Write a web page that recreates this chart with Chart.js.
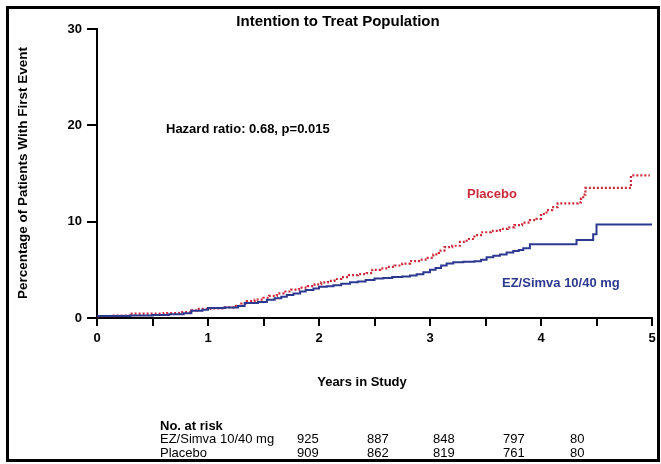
<!DOCTYPE html>
<html>
<head>
<meta charset="utf-8">
<script src="https://cdn.jsdelivr.net/npm/chart.js@4.4.1/dist/chart.umd.min.js"></script>
<style>
  body { margin: 0; background: #fff; }
  canvas { display: block; }
</style>
</head>
<body>
<canvas id="chart" width="661" height="464"></canvas>
<script>
// KM curves, cumulative % with first event
const ezYears = [0, 0.3, 0.5, 0.65, 0.78, 0.85, 0.95, 1.0, 1.15, 1.27, 1.33, 1.45, 1.53, 1.6, 1.66, 1.71, 1.77, 1.83, 1.88, 1.95, 2.0, 2.07, 2.13, 2.2, 2.28, 2.35, 2.42, 2.5, 2.58, 2.66, 2.75, 2.82, 2.88, 2.94, 3.0, 3.05, 3.1, 3.15, 3.21, 3.3, 3.4, 3.46, 3.51, 3.57, 3.63, 3.69, 3.75, 3.8, 3.84, 3.9, 4.32, 4.47, 4.5, 5.0];
const ezPct   = [0.2, 0.25, 0.3, 0.4, 0.5, 0.75, 0.85, 1.05, 1.1, 1.25, 1.55, 1.65, 1.9, 2.05, 2.2, 2.4, 2.55, 2.75, 2.9, 3.05, 3.25, 3.3, 3.4, 3.55, 3.7, 3.8, 3.95, 4.1, 4.15, 4.25, 4.3, 4.4, 4.55, 4.75, 5.0, 5.2, 5.45, 5.65, 5.8, 5.85, 5.9, 6.05, 6.3, 6.45, 6.6, 6.8, 6.95, 7.05, 7.25, 7.65, 8.1, 8.7, 9.7, 9.7];

const placeboYears = [0, 0.15, 0.3, 0.6, 0.75, 0.85, 0.9, 1.02, 1.15, 1.23, 1.3, 1.35, 1.42, 1.5, 1.55, 1.62, 1.68, 1.75, 1.82, 1.9, 1.96, 2.02, 2.08, 2.14, 2.2, 2.27, 2.35, 2.43, 2.48, 2.55, 2.62, 2.68, 2.75, 2.82, 2.9, 2.97, 3.03, 3.08, 3.13, 3.2, 3.27, 3.33, 3.4, 3.46, 3.55, 3.63, 3.7, 3.76, 3.83, 3.9, 3.96, 4.0, 4.05, 4.1, 4.15, 4.33, 4.36, 4.38, 4.4, 4.81, 4.98];
const placeboPct   = [0.2, 0.25, 0.45, 0.5, 0.6, 0.8, 0.95, 1.0, 1.1, 1.25, 1.5, 1.75, 1.9, 2.1, 2.3, 2.55, 2.75, 2.95, 3.15, 3.3, 3.5, 3.7, 3.85, 4.05, 4.25, 4.45, 4.55, 4.65, 5.0, 5.15, 5.3, 5.45, 5.65, 5.9, 6.05, 6.25, 6.6, 7.0, 7.35, 7.5, 7.9, 8.2, 8.6, 8.9, 9.05, 9.25, 9.4, 9.65, 9.9, 10.15, 10.3, 10.8, 11.2, 11.5, 11.9, 12.0, 12.4, 12.8, 13.5, 14.8, 14.8];

// number at risk table
const riskLabels = ["EZ/Simva 10/40 mg", "Placebo"];
const ezAtRisk = [925, 887, 848, 797, 80];
const placeboAtRisk = [909, 862, 819, 761, 80];

const BLUE = "#2d3990";
const RED = "#cc2a3a";
const FONT = "'Liberation Sans', Arial, sans-serif";

function pts(xs, ys) {
  return xs.map((x, i) => ({ x: x, y: ys[i] }));
}

// 🔹 TEXT + FRAME
const extras = {
  id: "extras",
  afterDraw(chart) {
    const ctx = chart.ctx;
    ctx.save();
    ctx.fillStyle = "#000";
    ctx.textBaseline = "alphabetic";

    ctx.font = "bold 15px " + FONT;
    ctx.textAlign = "center";
    ctx.fillText("Intention to Treat Population", 338, 26);

    ctx.font = "bold 13px " + FONT;
    ctx.fillText("Years in Study", 362, 386);

    ctx.textAlign = "left";
    ctx.fillText("Hazard ratio: 0.68, p=0.015", 166, 133);

    ctx.fillStyle = RED;
    ctx.fillText("Placebo", 467, 198);
    ctx.fillStyle = BLUE;
    ctx.fillText("EZ/Simva 10/40 mg", 502, 287);

    // y title
    ctx.fillStyle = "#000";
    ctx.save();
    ctx.translate(27, 173);
    ctx.rotate(-Math.PI / 2);
    ctx.textAlign = "center";
    ctx.font = "bold 13.5px " + FONT;
    ctx.fillText("Percentage of Patients With First Event", 0, 0);
    ctx.restore();

    // at risk
    ctx.textAlign = "left";
    ctx.font = "bold 13px " + FONT;
    ctx.fillText("No. at risk", 160, 430);
    ctx.font = "13px " + FONT;
    const cols = [297, 367, 433, 503, 570];
    ctx.fillText(riskLabels[0], 160, 443);
    ctx.fillText(riskLabels[1], 160, 457);
    ezAtRisk.forEach((n, i) => ctx.fillText(String(n), cols[i], 443));
    placeboAtRisk.forEach((n, i) => ctx.fillText(String(n), cols[i], 457));

    // frame
    ctx.strokeStyle = "#000";
    ctx.lineWidth = 3;
    ctx.strokeRect(7.5, 7.5, 651, 453);
    ctx.restore();
  }
};

new Chart(document.getElementById("chart"), {
  type: "line",
  data: {
    datasets: [
      {
        label: "EZ/Simva 10/40 mg",
        data: pts(ezYears, ezPct),
        borderColor: BLUE,
        borderWidth: 2,
        stepped: true,
        pointRadius: 0,
        fill: false
      },
      {
        label: "Placebo",
        data: pts(placeboYears, placeboPct),
        borderColor: RED,
        borderWidth: 2.2,
        borderDash: [2, 2],
        stepped: true,
        pointRadius: 0,
        fill: false
      }
    ]
  },
  options: {
    responsive: false,
    devicePixelRatio: 1,
    animation: false,
    layout: { padding: { left: 0, top: 29, right: 9, bottom: 0 } },
    plugins: {
      legend: { display: false },
      tooltip: { enabled: false }
    },
    scales: {
      x: {
        type: "linear",
        min: 0,
        max: 5,
        afterFit(scale) { scale.height = 146; },
        border: { display: true, color: "#000", width: 2 },
        grid: { drawOnChartArea: false, drawTicks: true, tickLength: 8, color: "#000", lineWidth: 2 },
        ticks: {
          stepSize: 0.5,
          autoSkip: false,
          maxRotation: 0,
          padding: 5,
          color: "#000",
          font: { family: FONT, size: 13, weight: "bold" },
          callback: v => Number.isInteger(v) ? String(v) : ""
        }
      },
      y: {
        min: 0,
        max: 30,
        afterFit(scale) { scale.width = 97; },
        border: { display: true, color: "#000", width: 2 },
        grid: { drawOnChartArea: false, drawTicks: true, tickLength: 10, color: "#000", lineWidth: 2 },
        ticks: {
          stepSize: 10,
          padding: 5,
          color: "#000",
          font: { family: FONT, size: 13, weight: "bold" }
        }
      }
    }
  },
  plugins: [extras]
});
</script>
</body>
</html>
